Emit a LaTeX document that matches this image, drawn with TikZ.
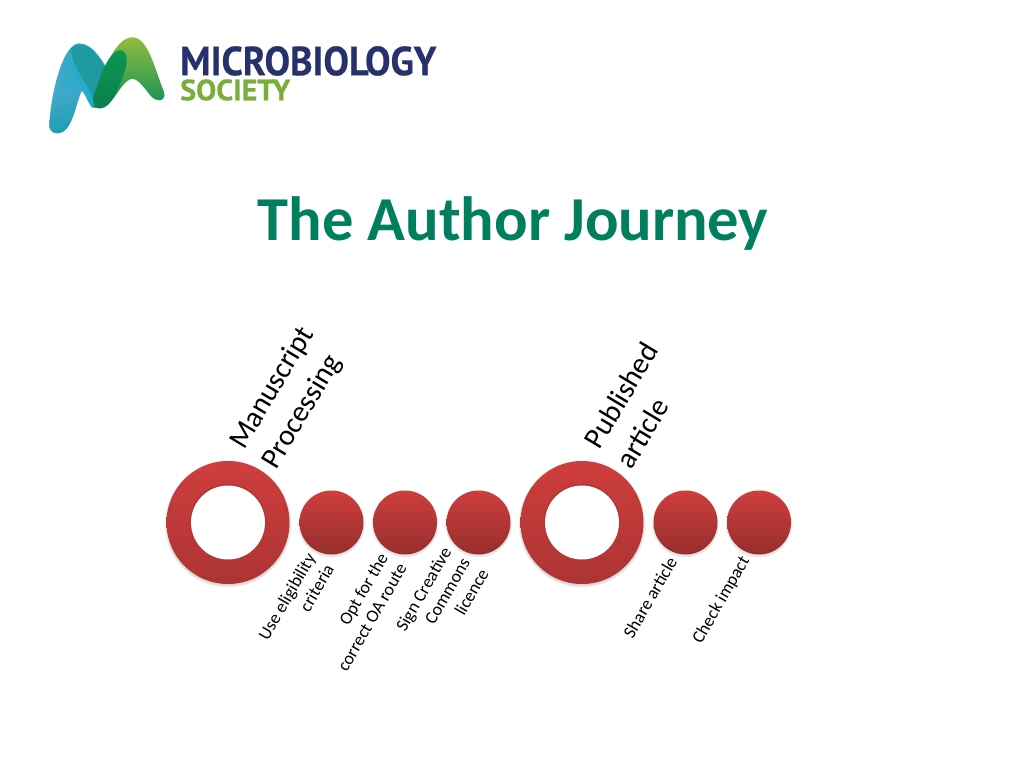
\documentclass[tikz,border=0pt]{standalone}
\usepackage{fontspec}
\setmainfont{Carlito}
\newfontfamily\logofont[BoldFeatures={FakeBold=0.5}]{PT Sans}
\definecolor{titlegreen}{HTML}{007F5F}
\definecolor{redtop}{HTML}{CE3E3D}
\definecolor{redbot}{HTML}{962E2D}
\definecolor{ringbot}{HTML}{AC3433}
\definecolor{logonavy}{HTML}{27316B}
\definecolor{logogreen}{HTML}{79AE3A}
\definecolor{archtop}{HTML}{93BC3D}
\definecolor{archbot}{HTML}{0F8F5A}
\definecolor{bluetop}{HTML}{12ACCF}
\definecolor{bluebot}{HTML}{0F9CAC}
\definecolor{bluemid}{HTML}{45A9C8}
\definecolor{tealover}{HTML}{1E9AA0}
\definecolor{dgtop}{HTML}{0E9550}
\definecolor{dgbot}{HTML}{0B7F50}
\tikzset{
  softshadow/.style={circle,fill=black,fill opacity=.05,draw=none,inner sep=0pt,minimum size=#1},
  ballnode/.style={circle,draw=none,inner sep=0pt,minimum size=#1,top color=redtop,bottom color=redbot},
  ringnode/.style={circle,draw=none,inner sep=0pt,minimum size=#1,top color=redtop,bottom color=ringbot},
  holenode/.style={circle,draw=none,fill=white,inner sep=0pt,minimum size=74pt},
  biglabel/.style={align=left,rotate=59,font=\fontsize{29.5}{38}\selectfont,inner sep=0pt},
  smalllabel/.style={align=right,rotate=60,font=\fontsize{17.8}{21.5}\selectfont,inner sep=0pt},
}
\newcommand{\bigring}[2]{%
  \foreach \s in {127,125,123.5}{\node[softshadow=\s pt] at (#2,524) {};}
  \node[ringnode=123pt] (#1) at (#2,522.5) {};
  \foreach \s in {76,75}{\node[softshadow=\s pt] at (#2,521.5) {};}
  \node[holenode] (#1hole) at (#2,522.5) {};
}
\newcommand{\smallball}[2]{%
  \foreach \s in {67,65.5}{\node[softshadow=\s pt] at (#2,524) {};}
  \node[ballnode=64pt] (#1) at (#2,522.5) {};
}
\begin{document}
\begin{tikzpicture}[x=1pt,y=-1pt]
\useasboundingbox[fill=white] (0,0) rectangle (1024,768);
% logo mark
\begin{scope}[shift={(30,20)},x=0.3333pt,y=-0.3333pt]
  \path[top color=archtop,bottom color=archbot]
    (185,262) .. controls (215,170) and (250,50) .. (310,52)
    .. controls (355,55) and (375,150) .. (402,215)
    .. controls (410,245) and (380,250) .. (360,225)
    .. controls (340,200) and (320,170) .. (300,178)
    .. controls (270,190) and (245,265) .. (210,265) -- cycle;
  \path[left color=bluemid,right color=bluetop]
    (58,315) .. controls (60,240) and (95,70) .. (148,70)
    .. controls (190,72) and (215,120) .. (240,160)
    .. controls (225,200) and (200,255) .. (185,262)
    .. controls (170,240) and (165,220) .. (155,212)
    .. controls (135,260) and (125,338) .. (85,340)
    .. controls (65,340) and (58,330) .. (58,315) -- cycle;
  \path[top color=bluemid,bottom color=bluebot,fill opacity=.7]
    (58,315) .. controls (60,285) and (66,250) .. (75,215)
    -- (155,212) .. controls (135,260) and (125,338) .. (85,340)
    .. controls (65,340) and (58,330) .. (58,315) -- cycle;
  \path[fill=tealover]
    (122,88) .. controls (135,70) and (170,65) .. (195,100)
    .. controls (215,125) and (228,145) .. (240,160)
    .. controls (225,200) and (210,240) .. (190,240)
    .. controls (175,190) and (130,150) .. (122,88) -- cycle;
  \path[top color=dgtop,bottom color=dgbot]
    (270,90) .. controls (295,92) and (295,130) .. (280,165)
    .. controls (265,205) and (245,262) .. (212,265)
    .. controls (190,265) and (185,245) .. (192,225)
    .. controls (210,170) and (235,95) .. (270,90) -- cycle;
\end{scope}
\node[inner sep=0pt,anchor=west,text=logonavy] (logotop) at (180,61)
  {\resizebox{256pt}{29pt}{\logofont\bfseries MICROBIOLOGY}};
\node[inner sep=0pt,anchor=west,text=logogreen] (logobot) at (180,90)
  {\resizebox{110pt}{21pt}{\logofont\bfseries SOCIETY}};
% title
\node[inner sep=0pt,text=titlegreen,font=\fontsize{62.5}{66}\selectfont\bfseries] (title) at (513,223) {The Author Journey};
% rings and balls
\bigring{ringa}{228}
\smallball{balla}{331.5}
\smallball{ballb}{405}
\smallball{ballc}{478.5}
\bigring{ringb}{582}
\smallball{balld}{685.5}
\smallball{balle}{759}
% labels
\node[biglabel] (lma) at (289,398) {Manuscript\\Processing};
\node[biglabel] (lpa) at (637,405) {Published\\article};
\node[smalllabel] (lba) at (296,602) {Use eligibility\\criteria};
\node[smalllabel] (lbb) at (362.5,612) {Opt for the\\correct OA route};
\node[smalllabel] (lbc) at (442,600) {Sign Creative\\Commons\\licence};
\node[smalllabel] (lbd) at (650,597.5) {Share article};
\node[smalllabel] (lbe) at (721.5,600) {Check impact};
\end{tikzpicture}
\end{document}
